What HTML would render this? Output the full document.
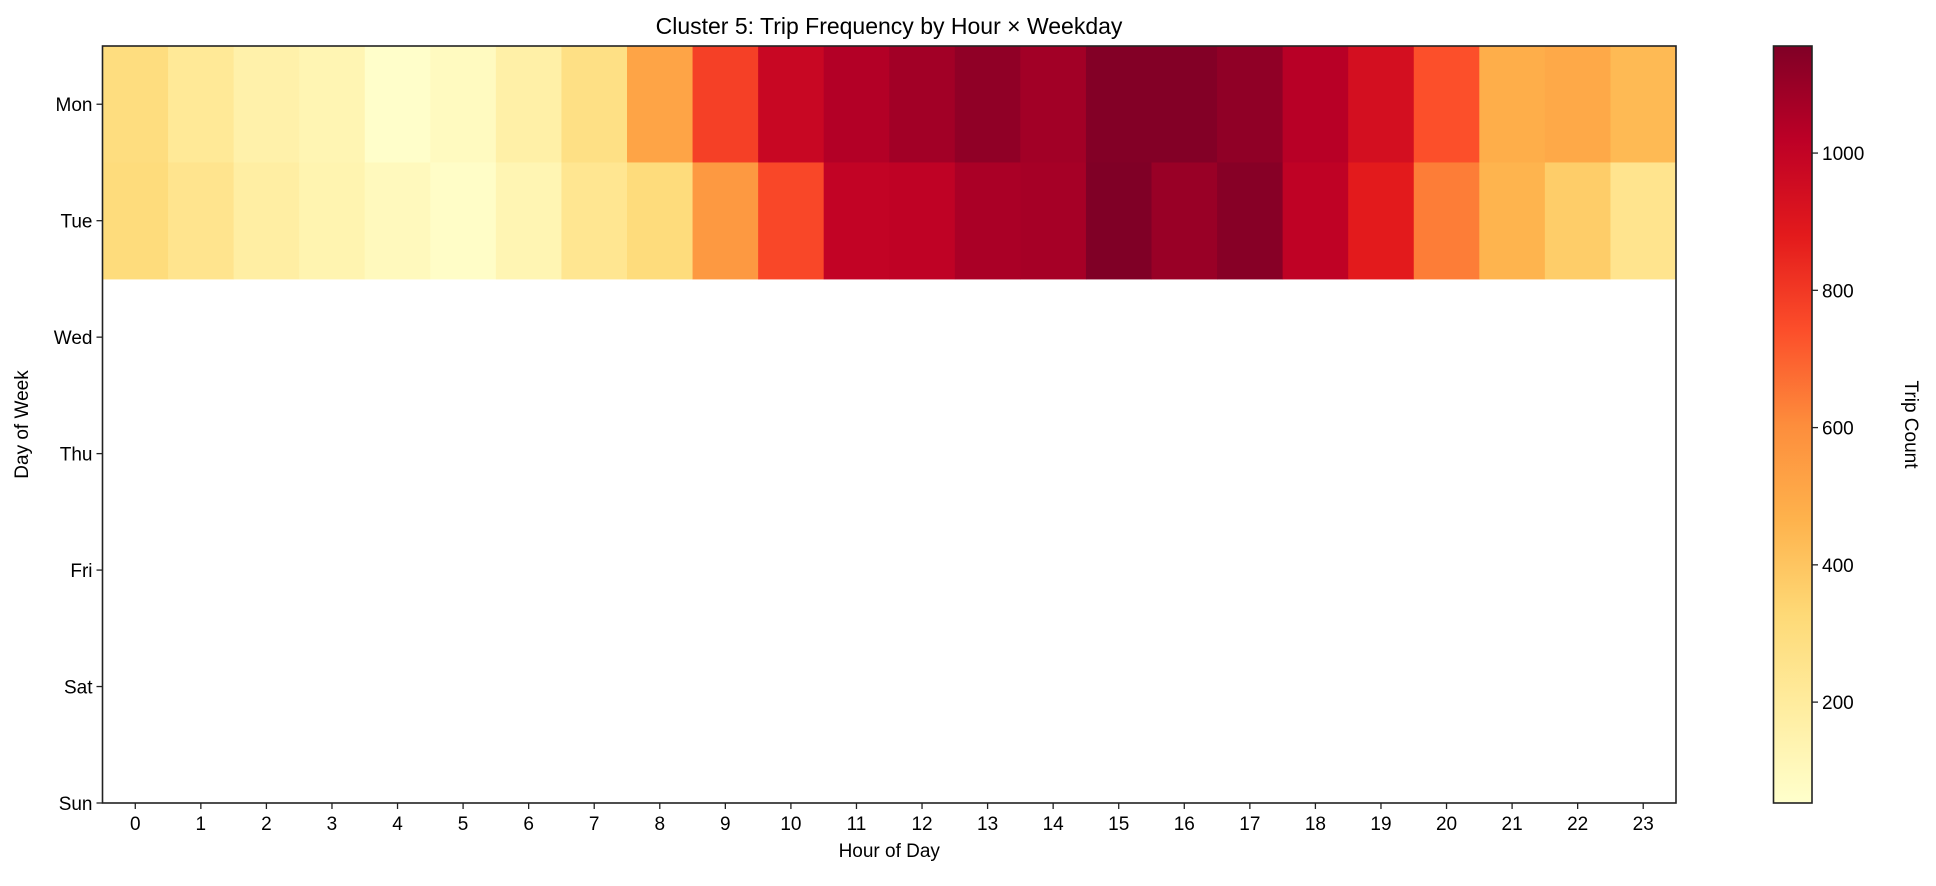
<!DOCTYPE html>
<html><head><meta charset="utf-8"><style>
html,body{margin:0;padding:0;background:#fff;}
svg text{font-family:"Liberation Sans","DejaVu Sans",sans-serif;fill:#000;}
</style></head><body>
<svg id="chart" width="1936" height="881" xmlns="http://www.w3.org/2000/svg">
<defs>
<linearGradient id="cbgrad" x1="0" y1="1" x2="0" y2="0">
<stop offset="0" stop-color="#ffffcc"/><stop offset="0.125" stop-color="#ffeda0"/><stop offset="0.25" stop-color="#fed976"/><stop offset="0.375" stop-color="#feb24c"/><stop offset="0.5" stop-color="#fd8d3c"/><stop offset="0.625" stop-color="#fc4e2a"/><stop offset="0.75" stop-color="#e31a1c"/><stop offset="0.875" stop-color="#bd0026"/><stop offset="1" stop-color="#800026"/>
</linearGradient>
</defs>
<text x="889" y="34" font-size="23" text-anchor="middle">Cluster 5: Trip Frequency by Hour × Weekday</text>
<g id="cells"></g>
<g id="axes"></g>
</svg>
<script>
const hours = [0,1,2,3,4,5,6,7,8,9,10,11,12,13,14,15,16,17,18,19,20,21,22,23];
const days = ["Mon","Tue","Wed","Thu","Fri","Sat","Sun"];
const monValues = [300,220,160,130,60,90,170,280,520,780,980,1040,1080,1120,1080,1150,1150,1120,1030,940,740,480,500,440];
const tueValues = [310,250,180,140,100,70,130,240,310,560,760,1000,1010,1060,1070,1156,1100,1140,1010,880,640,460,370,250];
const cbTicks = [200,400,600,800,1000];
const vmin = 53, vmax = 1156;

const L=102.5,R=1676,T=46,B=803;
const xs = h => L + (h+0.5)*(R-L)/24;
const cw = (R-L)/24;
const rh = (B-T)/6.5;
const ys = d => T + (d+0.5)*rh;
const cbX0=1773.5,cbX1=1812,cbY=v=>B-(v-vmin)/(vmax-vmin)*(B-T);
const stops=["#ffffcc","#ffeda0","#fed976","#feb24c","#fd8d3c","#fc4e2a","#e31a1c","#bd0026","#800026"].map(c=>[parseInt(c.slice(1,3),16),parseInt(c.slice(3,5),16),parseInt(c.slice(5,7),16)]);
function color(v){let t=Math.max(0,Math.min(1,(v-vmin)/(vmax-vmin)))*8;let i=Math.min(7,Math.floor(t)),f=t-i;const a=stops[i],b=stops[i+1];return `rgb(${a.map((x,k)=>Math.round(x+(b[k]-x)*f)).join(',')})`;}
const NS="http://www.w3.org/2000/svg";
function mk(tag,attrs,parent,txt){const e=document.createElementNS(NS,tag);for(const k in attrs)e.setAttribute(k,attrs[k]);if(txt!==undefined)e.textContent=txt;parent.appendChild(e);return e;}
const cells=document.getElementById('cells'),axes=document.getElementById('axes');
[monValues,tueValues].forEach((vals,d)=>{vals.forEach((v,h)=>{
 const r=mk('rect',{x:xs(h)-cw/2,y:ys(d)-rh/2,width:cw+0.5,height:rh+0.5,fill:color(v)},cells);
 
 
});});
const frame=mk('rect',{x:L,y:T,width:R-L,height:B-T,fill:'none',stroke:'#222','stroke-width':1.6},axes);


hours.forEach(h=>{
 mk('line',{x1:xs(h),x2:xs(h),y1:B,y2:B+6,stroke:'#222','stroke-width':1.3},axes);
 const t=mk('text',{x:xs(h),y:B+27,'font-size':19,'text-anchor':'middle'},axes,String(h));
 
 
});
days.forEach((d,i)=>{
 const y=ys(i);
 mk('line',{x1:L-6,x2:L,y1:y,y2:y,stroke:'#222','stroke-width':1.3},axes);
 const t=mk('text',{x:L-10,y:y+7,'font-size':19,'text-anchor':'end'},axes,d);
 
 
});
const xt=mk('text',{x:(L+R)/2,y:B+54,'font-size':19,'text-anchor':'middle'},axes,'Hour of Day');


const yt=mk('text',{x:0,y:0,'font-size':19,'text-anchor':'middle',transform:`translate(28,${(T+B)/2}) rotate(-90)`},axes,'Day of Week');


const cb=mk('rect',{x:cbX0,y:T,width:cbX1-cbX0,height:B-T,fill:'url(#cbgrad)',stroke:'#222','stroke-width':1.6},axes);


cbTicks.forEach(v=>{
 const y=cbY(v);
 mk('line',{x1:cbX1,x2:cbX1+6,y1:y,y2:y,stroke:'#222','stroke-width':1.3},axes);
 const t=mk('text',{x:cbX1+10,y:y+7,'font-size':19},axes,String(v));
 
 
});
const ct=mk('text',{x:0,y:0,'font-size':19,'text-anchor':'middle',transform:`translate(1905,${(T+B)/2}) rotate(90)`},axes,'Trip Count');


</script>
</body></html>
